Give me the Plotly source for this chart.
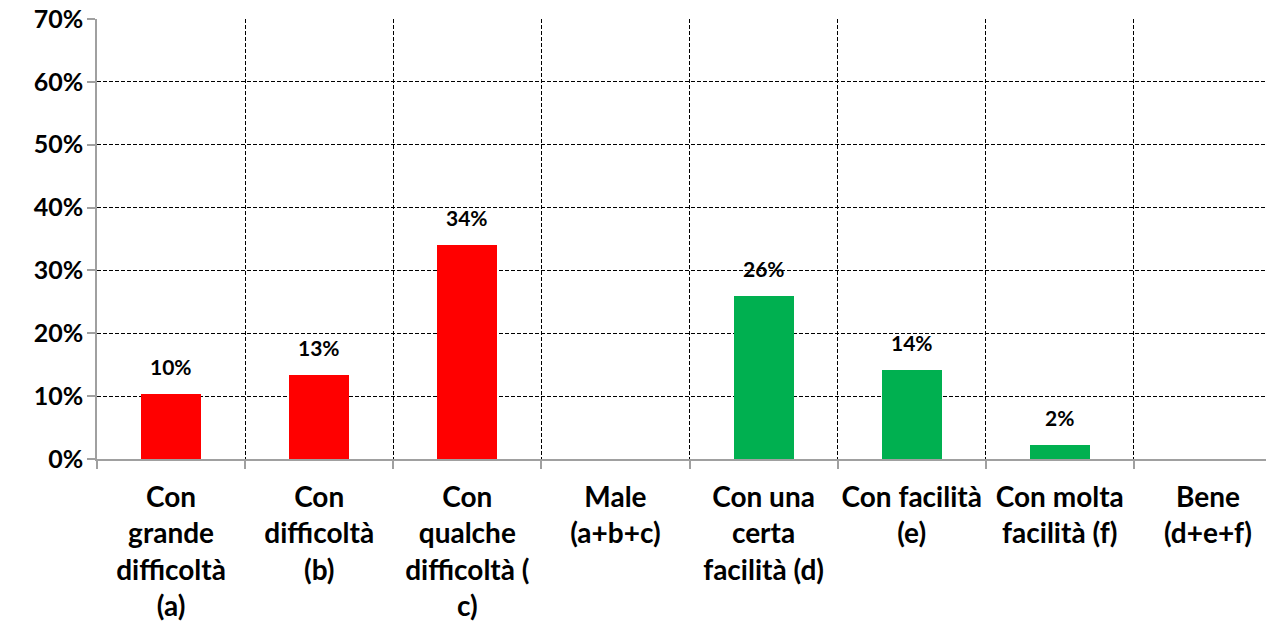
import plotly.graph_objects as go

categories = [
    "Con<br>grande<br>difficoltà<br>(a)",
    "Con<br>difficoltà<br>(b)",
    "Con<br>qualche<br>difficoltà (<br>c)",
    "Male<br>(a+b+c)",
    "Con una<br>certa<br>facilità (d)",
    "Con facilità<br>(e)",
    "Con molta<br>facilità (f)",
    "Bene<br>(d+e+f)",
]
values = [0.104, 0.133, 0.340, 0.0, 0.259, 0.141, 0.023, 0.0]
colors = ["#FF0000", "#FF0000", "#FF0000", "#FF0000",
          "#00B050", "#00B050", "#00B050", "#00B050"]
y_ticks = [0, 0.1, 0.2, 0.3, 0.4, 0.5, 0.6, 0.7]

xs = list(range(len(categories)))
FONT = "Lato"

fig = go.Figure()
fig.add_trace(go.Bar(x=xs, y=values, marker=dict(color=colors, line=dict(width=0)),
                     width=0.405, showlegend=False, hoverinfo="skip"))
# dummy trace on xaxis2 for category labels
fig.add_trace(go.Scatter(x=xs, y=[None]*len(xs), xaxis="x2", mode="markers",
                         showlegend=False, hoverinfo="skip"))

for x, v in zip(xs, values):
    if v > 0:
        fig.add_annotation(x=x, y=v, text=f"{v:.0%}", showarrow=False,
                           yanchor="bottom", yshift=13,
                           font=dict(family=FONT, size=21, color="black", weight="bold"))

boundaries = [i - 0.5 for i in range(len(categories) + 1)]
fig.update_layout(
    width=1274, height=630,
    margin=dict(l=89, r=0, t=11, b=179, autoexpand=False),
    plot_bgcolor="white", paper_bgcolor="white",
    bargap=0,
    xaxis=dict(range=[-0.5, 7.5], tickvals=boundaries, showticklabels=False,
               showgrid=True, gridcolor="black", griddash="4px,2px", gridwidth=1,
               ticks="outside", ticklen=8, tickcolor="#a0a0a0", tickwidth=1.5,
               showline=True, linecolor="#a0a0a0", linewidth=1.5, zeroline=False,
               automargin=False),
    xaxis2=dict(overlaying="x", matches="x", side="bottom", anchor="y",
                tickvals=xs, ticktext=categories, showgrid=False, ticks="",
                showline=False, zeroline=False, ticklabelstandoff=19,
                automargin=False,
                tickfont=dict(family=FONT, size=28, color="black", weight="bold")),
    yaxis=dict(range=[0, 0.70], tickvals=y_ticks, tickformat=".0%",
               showgrid=True, gridcolor="black", griddash="4px,2px", gridwidth=1,
               ticks="outside", ticklen=8, tickcolor="#a0a0a0", tickwidth=1.5,
               showline=True, linecolor="#a0a0a0", linewidth=1.5, zeroline=False,
               ticklabeloverflow="allow", automargin=False, ticklabelstandoff=-1,
               tickfont=dict(family=FONT, size=25, color="black", weight="bold")),
)

fig.write_html("out.html")
